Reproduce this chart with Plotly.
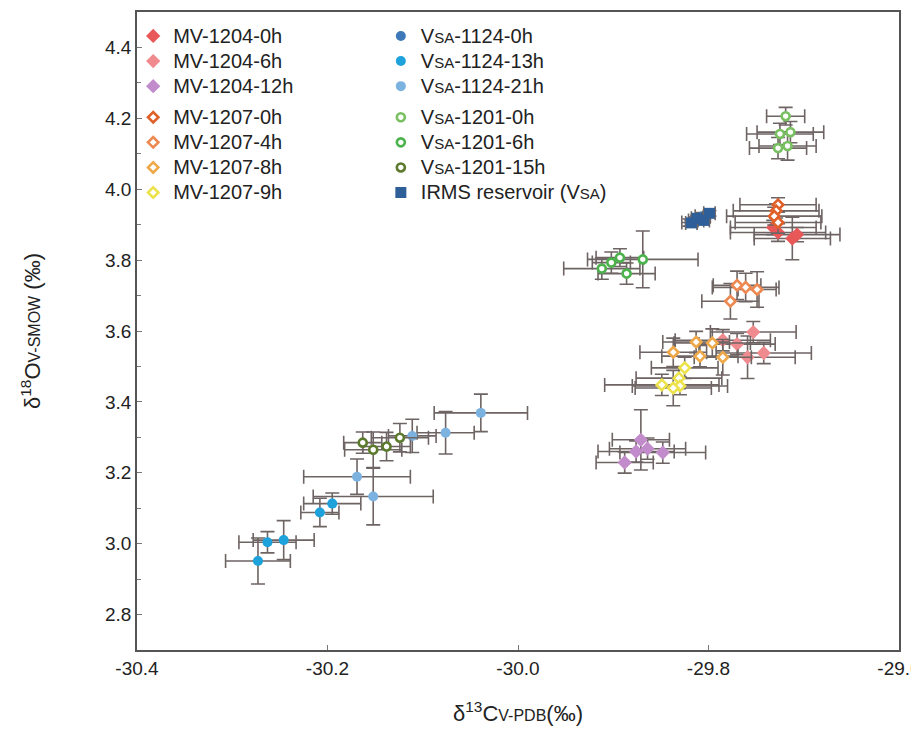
import plotly.graph_objects as go

# ---------------- data ----------------
x_ticks = [-30.4, -30.2, -30.0, -29.8, -29.6]
x_ticklabels = ["-30.4", "-30.2", "-30.0", "-29.8", "-29.6"]
y_ticks = [2.8, 3.0, 3.2, 3.4, 3.6, 3.8, 4.0, 4.2, 4.4]
y_ticklabels = ["2.8", "3.0", "3.2", "3.4", "3.6", "3.8", "4.0", "4.2", "4.4"]

mv1204_0h_x = [-29.732, -29.727, -29.712, -29.707]
mv1204_0h_y = [3.892, 3.878, 3.861, 3.872]
mv1204_0h_ex = [0.045, 0.05, 0.04, 0.045]
mv1204_0h_ey = [0.02, 0.025, 0.06, 0.02]

mv1204_6h_x = [-29.753, -29.785, -29.770, -29.759, -29.742]
mv1204_6h_y = [3.597, 3.574, 3.563, 3.526, 3.538]
mv1204_6h_ex = [0.045, 0.05, 0.04, 0.05, 0.05]
mv1204_6h_ey = [0.03, 0.03, 0.03, 0.06, 0.03]

mv1204_12h_x = [-29.871, -29.876, -29.864, -29.848, -29.888]
mv1204_12h_y = [3.293, 3.260, 3.268, 3.257, 3.229]
mv1204_12h_ex = [0.03, 0.04, 0.04, 0.045, 0.03]
mv1204_12h_ey = [0.085, 0.03, 0.03, 0.03, 0.03]

mv1207_0h_x = [-29.727, -29.729, -29.731, -29.727]
mv1207_0h_y = [3.956, 3.939, 3.924, 3.906]
mv1207_0h_ex = [0.04, 0.045, 0.05, 0.045]
mv1207_0h_ey = [0.02, 0.02, 0.025, 0.03]

mv1207_4h_x = [-29.770, -29.761, -29.749, -29.777]
mv1207_4h_y = [3.729, 3.723, 3.717, 3.684]
mv1207_4h_ex = [0.025, 0.035, 0.02, 0.03]
mv1207_4h_ey = [0.04, 0.04, 0.05, 0.05]

mv1207_8h_x = [-29.813, -29.796, -29.809, -29.785, -29.837]
mv1207_8h_y = [3.569, 3.566, 3.529, 3.526, 3.540]
mv1207_8h_ex = [0.035, 0.04, 0.04, 0.03, 0.035]
mv1207_8h_ey = [0.03, 0.04, 0.03, 0.05, 0.04]

mv1207_9h_x = [-29.825, -29.831, -29.830, -29.837, -29.849]
mv1207_9h_y = [3.496, 3.467, 3.445, 3.439, 3.448]
mv1207_9h_ex = [0.035, 0.045, 0.05, 0.04, 0.06]
mv1207_9h_ey = [0.03, 0.03, 0.025, 0.05, 0.03]

vsa1124_0h_x = [-29.820, -29.813, -29.806]
vsa1124_0h_y = [3.906, 3.912, 3.924]
vsa1124_0h_ex = [0.008, 0.008, 0.008]
vsa1124_0h_ey = [0.01, 0.01, 0.01]

vsa1124_13h_x = [-30.273, -30.263, -30.246, -30.208, -30.195]
vsa1124_13h_y = [2.951, 3.004, 3.010, 3.088, 3.113]
vsa1124_13h_ex = [0.034, 0.03, 0.032, 0.02, 0.03]
vsa1124_13h_ey = [0.065, 0.03, 0.055, 0.04, 0.03]

vsa1124_21h_x = [-30.039, -30.076, -30.111, -30.169, -30.152]
vsa1124_21h_y = [3.369, 3.313, 3.304, 3.189, 3.133]
vsa1124_21h_ex = [0.049, 0.03, 0.025, 0.056, 0.063]
vsa1124_21h_ey = [0.053, 0.06, 0.047, 0.05, 0.08]

vsa1201_0h_x = [-29.719, -29.725, -29.714, -29.727, -29.717]
vsa1201_0h_y = [4.206, 4.156, 4.161, 4.116, 4.122]
vsa1201_0h_ex = [0.02, 0.035, 0.035, 0.03, 0.03]
vsa1201_0h_ey = [0.025, 0.03, 0.03, 0.03, 0.04]

vsa1201_6h_x = [-29.912, -29.902, -29.893, -29.869, -29.886]
vsa1201_6h_y = [3.776, 3.793, 3.807, 3.802, 3.762]
vsa1201_6h_ex = [0.04, 0.02, 0.025, 0.058, 0.03]
vsa1201_6h_ey = [0.03, 0.03, 0.025, 0.08, 0.03]

vsa1201_15h_x = [-30.163, -30.152, -30.138, -30.124]
vsa1201_15h_y = [3.285, 3.265, 3.274, 3.299]
vsa1201_15h_ex = [0.02, 0.03, 0.025, 0.03]
vsa1201_15h_ey = [0.03, 0.05, 0.04, 0.04]

irms_x = [-29.818, -29.812, -29.805, -29.799]
irms_y = [3.905, 3.918, 3.912, 3.932]
irms_ex = [0.006, 0.006, 0.006, 0.006]
irms_ey = [0.008, 0.008, 0.008, 0.008]

# ---------------- figure ----------------
ERR = "#6f6464"
FONT = "Liberation Sans, Arial, sans-serif"
VSA = "V<span style='font-size:15px'>SA</span>"

series = [
    # name, x, y, ex, ey, color, symbol, open, legend, group
    ("MV-1204-0h", mv1204_0h_x, mv1204_0h_y, mv1204_0h_ex, mv1204_0h_ey, "#e85858", "diamond", False, "legend", "a"),
    ("MV-1204-6h", mv1204_6h_x, mv1204_6h_y, mv1204_6h_ex, mv1204_6h_ey, "#ef8a8e", "diamond", False, "legend", "a"),
    ("MV-1204-12h", mv1204_12h_x, mv1204_12h_y, mv1204_12h_ex, mv1204_12h_ey, "#c28ccc", "diamond", False, "legend", "a"),
    ("MV-1207-0h", mv1207_0h_x, mv1207_0h_y, mv1207_0h_ex, mv1207_0h_ey, "#e0602a", "diamond", True, "legend", "b"),
    ("MV-1207-4h", mv1207_4h_x, mv1207_4h_y, mv1207_4h_ex, mv1207_4h_ey, "#ec8850", "diamond", True, "legend", "b"),
    ("MV-1207-8h", mv1207_8h_x, mv1207_8h_y, mv1207_8h_ex, mv1207_8h_ey, "#eea848", "diamond", True, "legend", "b"),
    ("MV-1207-9h", mv1207_9h_x, mv1207_9h_y, mv1207_9h_ex, mv1207_9h_ey, "#ece24a", "diamond", True, "legend", "b"),
    ("VSA-1124-0h", vsa1124_0h_x, vsa1124_0h_y, vsa1124_0h_ex, vsa1124_0h_ey, "#3d78b8", "circle", False, "legend2", "c"),
    ("VSA-1124-13h", vsa1124_13h_x, vsa1124_13h_y, vsa1124_13h_ex, vsa1124_13h_ey, "#1ea2dc", "circle", False, "legend2", "c"),
    ("VSA-1124-21h", vsa1124_21h_x, vsa1124_21h_y, vsa1124_21h_ex, vsa1124_21h_ey, "#7cb2e0", "circle", False, "legend2", "c"),
    ("VSA-1201-0h", vsa1201_0h_x, vsa1201_0h_y, vsa1201_0h_ex, vsa1201_0h_ey, "#78c060", "circle", True, "legend2", "d"),
    ("VSA-1201-6h", vsa1201_6h_x, vsa1201_6h_y, vsa1201_6h_ex, vsa1201_6h_ey, "#4cb24c", "circle", True, "legend2", "d"),
    ("VSA-1201-15h", vsa1201_15h_x, vsa1201_15h_y, vsa1201_15h_ex, vsa1201_15h_ey, "#5b7a2c", "circle", True, "legend2", "d"),
    ("IRMS reservoir (VSA)", irms_x, irms_y, irms_ex, irms_ey, "#2f5f98", "square", False, "legend2", "d"),
]

fig = go.Figure()
for name, xs, ys, exs, eys, col, sym, is_open, leg, grp in series:
    label = "<span style='font-size:20px'>" + name.replace("VSA", VSA) + "</span>"
    if is_open:
        marker = dict(symbol=sym, size=8, color="white", line=dict(color=col, width=2.6))
    else:
        marker = dict(symbol=sym, size=10 if sym == "circle" else 11, color=col, line=dict(width=0))
    fig.add_trace(go.Scatter(
        x=xs, y=ys, mode="markers", name=label, marker=marker,
        error_x=dict(type="data", array=exs, color=ERR, thickness=1.6, width=7),
        error_y=dict(type="data", array=eys, color=ERR, thickness=1.6, width=7),
        legend=leg, legendgroup=grp,
    ))

axis_common = dict(
    showline=True, linecolor="#555555", linewidth=1.5, mirror=True,
    showgrid=False, zeroline=False,
    ticks="inside", ticklen=5, tickcolor="#777777",
    tickfont=dict(family=FONT, size=19, color="#222222"),
)

fig.update_layout(
    width=919, height=734,
    margin=dict(l=129, r=28, t=2, b=92),
    paper_bgcolor="white", plot_bgcolor="white",
    font=dict(family=FONT, color="#222222"),
    xaxis=dict(
        range=[-30.4, -29.6], tickvals=x_ticks, ticktext=x_ticklabels,
        title=dict(text="δ<sup>13</sup>C<span style='font-size:16px'>V-PDB</span>(‰)",
                   font=dict(family=FONT, size=22), standoff=28),
        **axis_common,
    ),
    yaxis=dict(
        range=[2.7, 4.5], tickvals=y_ticks, ticktext=y_ticklabels,
        minor=dict(dtick=0.1, tick0=2.7, ticks="inside", ticklen=4, tickcolor="#777777"),
        title=dict(text="δ<sup>18</sup>O<span style='font-size:16px'>V-SMOW</span> (‰)",
                   font=dict(family=FONT, size=22), standoff=58),
        **axis_common,
    ),
    legend=dict(
        x=-0.005, y=0.99, xanchor="left", yanchor="top",
        bgcolor="rgba(0,0,0,0)", font=dict(family=FONT, size=17, color="#222222"),
        traceorder="grouped", tracegroupgap=6, itemwidth=30,
    ),
    legend2=dict(
        x=0.320, y=0.99, xanchor="left", yanchor="top",
        bgcolor="rgba(0,0,0,0)", font=dict(family=FONT, size=17, color="#222222"),
        traceorder="grouped", tracegroupgap=6, itemwidth=30,
    ),
)

fig.write_html("out.html")
